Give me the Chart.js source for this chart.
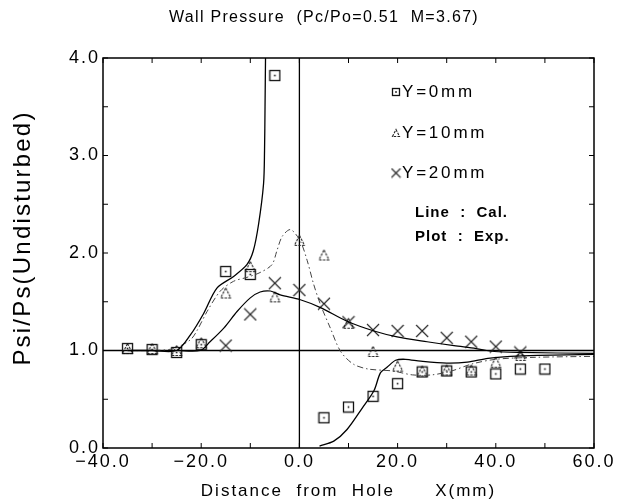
<!DOCTYPE html>
<html>
<head>
<meta charset="utf-8">
<script src="https://cdn.jsdelivr.net/npm/chart.js@4.4.0/dist/chart.umd.min.js"></script>
<style>
  html, body { margin: 0; padding: 0; background: #fff; }
</style>
</head>
<body>
<canvas id="wallChart" width="619" height="504"></canvas>
<script>
// Measured points (Exp.)
const sqX = [-35, -30, -25, -20, -15, -10, -5, 5, 10, 15, 20, 25, 30, 35, 40, 45, 50];
const sqY = [1.02, 1.01, 0.98, 1.06, 1.81, 1.78, 3.82, 0.31, 0.42, 0.53, 0.66, 0.78, 0.79, 0.78, 0.76, 0.81, 0.81];

const triX = [-35, -30, -25, -20, -15, -10, -5, 0, 5, 10, 15, 20, 25, 30, 35, 40, 45];
const triY = [1.02, 1.02, 1.0, 1.08, 1.59, 1.86, 1.55, 2.13, 1.98, 1.28, 0.99, 0.84, 0.79, 0.8, 0.8, 0.88, 0.95];

const crossX = [-15, -10, -5, 0, 5, 10, 15, 20, 25, 30, 35, 40, 45];
const crossY = [1.05, 1.37, 1.69, 1.62, 1.48, 1.29, 1.21, 1.2, 1.2, 1.13, 1.09, 1.04, 0.98];

// Calculated curves (Cal.)
const calY0X = [-35, -30, -25, -22.2, -19.5, -16.8, -13.4, -10.7, -9.4, -8.3, -7.3, -7.1, -7.0, -6.9, null,
                4.1, 7, 9.7, 12.8, 15.2, 16.5, 17.9, 19.6, 21.6, 24.7, 30, 34.2, 38.4, 43, 48.6, 60];
const calY0Y = [1.0, 1.0, 1.0, 1.16, 1.38, 1.64, 1.76, 1.88, 2.02, 2.3, 2.71, 3.05, 3.5, 4.0, null,
                0.02, 0.07, 0.19, 0.41, 0.59, 0.77, 0.83, 0.9, 0.91, 0.89, 0.87, 0.88, 0.92, 0.94, 0.95, 0.96];

const calY10X = [-35, -30, -25.6, -22.2, -20.9, -18.8, -16.1, -13.4, -10.7, -8, -5.6, -4.6, -3.5, -1.8, 0.2, 1.6, 2.9,
                 4.3, 6.3, 8.4, 11, 14, 19, 23, 27, 31, 35, 40, 48, 60];
const calY10Y = [1.0, 1.0, 1.02, 1.11, 1.2, 1.4, 1.61, 1.71, 1.75, 1.8, 1.88, 2.02, 2.17, 2.24, 2.12, 1.92, 1.68,
                 1.47, 1.23, 0.99, 0.86, 0.81, 0.79, 0.75, 0.75, 0.79, 0.86, 0.91, 0.93, 0.94];

const calY20X = [-35, -25, -20.2, -18.2, -15.4, -12.7, -10, -8, -5.9, -3.9, 0.2, 4.3, 9.7, 15.2, 19.9, 26, 31.5, 36, 39.7, 45, 60];
const calY20Y = [1.0, 1.0, 1.0, 1.09, 1.23, 1.4, 1.54, 1.6, 1.61, 1.57, 1.52, 1.44, 1.3, 1.2, 1.14, 1.09, 1.05, 1.02, 0.99, 0.98, 0.97];

// Axis ticks
const xTickValues = [-40, -20, 0, 20, 40, 60];
const yTickValues = [0, 1, 2, 3, 4];
const xMinorTicks = [-30, -10, 10, 30, 50];
const yMinorTicks = [0.5, 1.5, 2.5, 3.5];

const legendLabels = ['Y=0mm', 'Y=10mm', 'Y=20mm'];
const noteLines = ['Line  :  Cal.', 'Plot  :  Exp.'];
const titleText = 'Wall Pressure  (Pc/Po=0.51  M=3.67)';
const yTitle = 'Psi/Ps(Undisturbed)';

const FONT = '"Liberation Sans", Arial, sans-serif';

function zip(xs, ys) {
    return xs.map((x, i) => ({ x: x === null ? 0 : x, y: ys[i] }));
}

// marker images
function makeSquare(size) {
    const c = document.createElement('canvas');
    c.width = size + 2; c.height = size + 2;
    const g = c.getContext('2d');
    g.strokeStyle = '#111';
    g.lineWidth = 1.3;
    g.strokeRect(1.5, 1.5, size - 1, size - 1);
    g.fillStyle = '#111';
    g.fillRect(c.width / 2 - 0.8, c.height / 2 - 0.8, 1.6, 1.6);
    return c;
}

function makeTriangle(size) {
    const c = document.createElement('canvas');
    c.width = size + 2; c.height = size + 2;
    const g = c.getContext('2d');
    g.strokeStyle = '#222';
    g.lineWidth = 1.1;
    g.setLineDash([2.5, 1.2]);
    g.beginPath();
    g.moveTo(c.width / 2, 1.5);
    g.lineTo(size + 0.5, size + 0.5);
    g.lineTo(1.5, size + 0.5);
    g.closePath();
    g.stroke();
    return c;
}

function makeCross(size) {
    const c = document.createElement('canvas');
    c.width = size + 2; c.height = size + 2;
    const g = c.getContext('2d');
    g.strokeStyle = '#222';
    g.lineWidth = 1.1;
    g.beginPath();
    g.moveTo(1, 1); g.lineTo(size + 1, size + 1);
    g.moveTo(size + 1, 1); g.lineTo(1, size + 1);
    g.stroke();
    return c;
}

const squareImg = makeSquare(11);
const triangleImg = makeTriangle(11);
const crossImg = makeCross(12);
const legendImgs = [makeSquare(8), makeTriangle(8), makeCross(9)];

// frame, reference lines, inward ticks, title and legend
const decorPlugin = {
    id: 'decor',
    beforeDraw(chart) {
        chart.ctx.letterSpacing = '2px';
    },
    beforeDatasetsDraw(chart) {
        const ctx = chart.ctx;
        const x = chart.scales.x, y = chart.scales.y;
        const a = chart.chartArea;
        ctx.save();
        ctx.strokeStyle = '#000';
        ctx.lineWidth = 1.3;
        ctx.beginPath();
        ctx.moveTo(a.left, y.getPixelForValue(1));
        ctx.lineTo(a.right, y.getPixelForValue(1));
        ctx.moveTo(x.getPixelForValue(0), a.top);
        ctx.lineTo(x.getPixelForValue(0), a.bottom);
        ctx.stroke();
        ctx.restore();
    },
    afterDraw(chart) {
        const ctx = chart.ctx;
        const x = chart.scales.x, y = chart.scales.y;
        const a = chart.chartArea;
        ctx.save();
        ctx.strokeStyle = '#000';
        ctx.lineWidth = 1.5;
        ctx.strokeRect(a.left, a.top, a.right - a.left, a.bottom - a.top);

        ctx.lineWidth = 1;
        ctx.beginPath();
        xTickValues.concat(xMinorTicks).forEach(v => {
            const px = x.getPixelForValue(v);
            ctx.moveTo(px, a.bottom); ctx.lineTo(px, a.bottom - 5);
            ctx.moveTo(px, a.top); ctx.lineTo(px, a.top + 5);
        });
        yTickValues.concat(yMinorTicks).forEach(v => {
            const py = y.getPixelForValue(v);
            ctx.moveTo(a.left, py); ctx.lineTo(a.left + 5, py);
            ctx.moveTo(a.right, py); ctx.lineTo(a.right - 5, py);
        });
        ctx.stroke();

        // title
        ctx.fillStyle = '#000';
        ctx.textAlign = 'center';
        ctx.textBaseline = 'middle';
        ctx.letterSpacing = '1.3px';
        ctx.font = '16px ' + FONT;
        ctx.fillText(titleText, 324, 18);

        // y axis title
        ctx.save();
        ctx.translate(23, 238);
        ctx.rotate(-Math.PI / 2);
        ctx.font = '24px ' + FONT;
        ctx.letterSpacing = '2.2px';
        ctx.fillText(yTitle, 0, 0);
        ctx.restore();

        // legend
        ctx.textAlign = 'left';
        ctx.font = '17px ' + FONT;
        ctx.letterSpacing = '2.8px';
        const legendRows = [92, 133, 173];
        legendLabels.forEach((t, i) => {
            const img = legendImgs[i];
            ctx.drawImage(img, 396 - img.width / 2, legendRows[i] - img.height / 2);
            ctx.fillText(t, 402, legendRows[i]);
        });
        ctx.font = 'bold 15px ' + FONT;
        ctx.letterSpacing = '1px';
        ctx.fillText(noteLines[0], 415, 213);
        ctx.fillText(noteLines[1], 415, 237);
        ctx.restore();
    }
};

const tickFont = { family: FONT, size: 18 };
const fmt = v => (v < 0 ? '\u2212' + Math.abs(v).toFixed(1) : v.toFixed(1));

new Chart(document.getElementById('wallChart'), {
    type: 'scatter',
    data: {
        datasets: [
            {
                label: 'Cal. Y=0mm',
                data: zip(calY0X, calY0Y),
                showLine: true, spanGaps: false,
                borderColor: '#000', borderWidth: 1.3,
                pointRadius: 0, tension: 0.3
            },
            {
                label: 'Cal. Y=10mm',
                data: zip(calY10X, calY10Y),
                showLine: true,
                borderColor: '#444', borderWidth: 1, borderDash: [6, 3, 1.5, 3],
                pointRadius: 0, tension: 0.3
            },
            {
                label: 'Cal. Y=20mm',
                data: zip(calY20X, calY20Y),
                showLine: true,
                borderColor: '#000', borderWidth: 1.2,
                pointRadius: 0, tension: 0.3
            },
            {
                label: 'Y=0mm',
                data: zip(sqX, sqY),
                pointStyle: squareImg
            },
            {
                label: 'Y=10mm',
                data: zip(triX, triY),
                pointStyle: triangleImg
            },
            {
                label: 'Y=20mm',
                data: zip(crossX, crossY),
                pointStyle: crossImg
            }
        ]
    },
    options: {
        responsive: false,
        animation: false,
        devicePixelRatio: 1,
        layout: { padding: { top: 58, right: 25, left: 0, bottom: 0 } },
        plugins: {
            legend: { display: false },
            tooltip: { enabled: false }
        },
        scales: {
            x: {
                type: 'linear', min: -40, max: 60,
                afterBuildTicks: s => { s.ticks = xTickValues.map(v => ({ value: v })); },
                afterFit: s => { s.height = 56; },
                grid: { display: false, drawTicks: false },
                border: { display: false },
                ticks: { color: '#000', font: tickFont, padding: 3, maxRotation: 0, callback: fmt },
                title: {
                    display: true, text: 'Distance  from  Hole      X(mm)', color: '#000',
                    font: { family: FONT, size: 17 }, padding: { top: 0, bottom: 2 }
                }
            },
            y: {
                type: 'linear', min: 0, max: 4,
                afterBuildTicks: s => { s.ticks = yTickValues.map(v => ({ value: v })); },
                afterFit: s => { s.width = 103; },
                grid: { display: false, drawTicks: false },
                border: { display: false },
                ticks: { color: '#000', font: tickFont, padding: 3, callback: fmt }
            }
        }
    },
    plugins: [decorPlugin]
});
</script>
</body>
</html>
